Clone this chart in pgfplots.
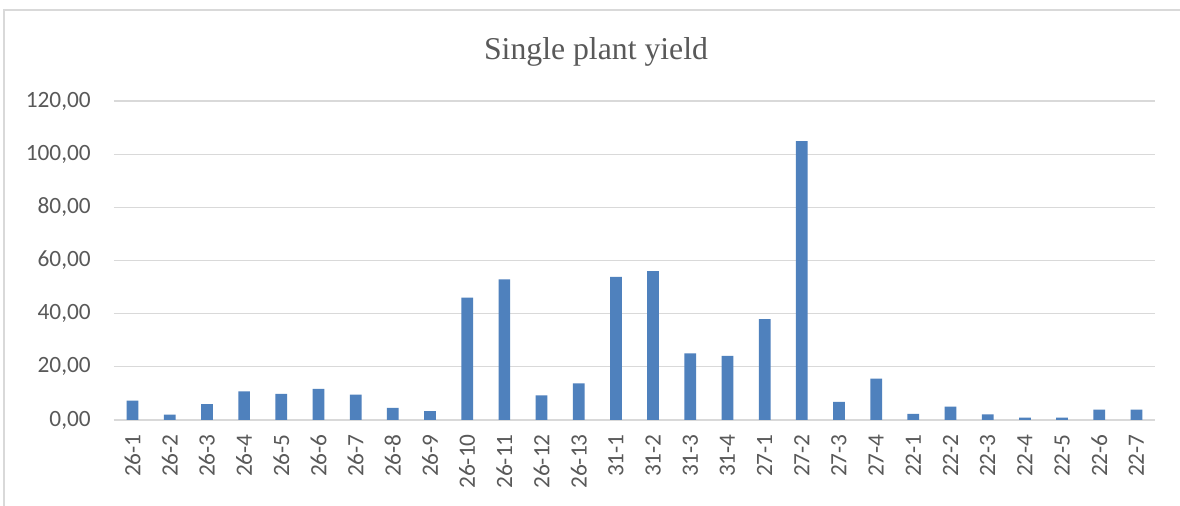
\documentclass[border=0pt]{standalone}
\usepackage{pgfplots}
\pgfplotsset{compat=1.18}
\usepackage{fontspec}
\setmainfont{Carlito}
\newfontfamily\titlefont{Liberation Serif}
\definecolor{barblue}{HTML}{4F81BD}
\definecolor{txtgray}{HTML}{595959}
\definecolor{gridgray}{HTML}{D9D9D9}
\begin{document}
\begin{tikzpicture}[x=1pt,y=1pt]
\useasboundingbox (0,0) rectangle (885,379.5);
\fill[white] (0,0) rectangle (885,379.5);
\draw[gridgray, line width=1pt] (3,0) -- (3,372) -- (890,372);
\node[anchor=base, text=txtgray, font=\titlefont\fontsize{23.8}{28}\selectfont] at (447,334.5) {Single plant yield};
\begin{axis}[
  at={(85.5pt,64.5pt)}, anchor=south west,
  scale only axis, width=780.75pt, height=239.25pt,
  xmin=-0.5, xmax=27.5, ymin=0, ymax=120,
  ybar, bar width=8.8pt,
  axis x line*=bottom, axis y line*=left,
  x axis line style={draw=gridgray, line width=0.9pt},
  y axis line style={draw=none},
  ymajorgrids, grid style={gridgray, line width=0.9pt},
  major tick length=0pt,
  xtick=data,
  xticklabels={26-1,26-2,26-3,26-4,26-5,26-6,26-7,26-8,26-9,26-10,26-11,26-12,26-13,31-1,31-2,31-3,31-4,27-1,27-2,27-3,27-4,22-1,22-2,22-3,22-4,22-5,22-6,22-7},
  ytick={0,20,40,60,80,100,120},
  yticklabels={{0,00},{20,00},{40,00},{60,00},{80,00},{100,00},{120,00}},
  ticklabel style={text=txtgray, font=\fontsize{17.5}{20}\selectfont, inner sep=0pt},
  xticklabel style={rotate=90, anchor=east},
  yticklabel style={anchor=east},
  xticklabel shift=10.5pt,
  yticklabel shift=17.25pt,
]
\addplot[fill=barblue, draw=none] coordinates {
(0,7.3) (1,2.0) (2,6.0) (3,10.8) (4,9.8) (5,11.7) (6,9.5) (7,4.6) (8,3.3)
(9,46.0) (10,52.9) (11,9.3) (12,13.8) (13,53.8) (14,56.0) (15,25.1) (16,24.1)
(17,37.9) (18,104.9) (19,6.8) (20,15.6) (21,2.3) (22,5.0) (23,2.1) (24,0.9)
(25,0.9) (26,3.9) (27,3.9)
};
\end{axis}
\end{tikzpicture}
\end{document}
